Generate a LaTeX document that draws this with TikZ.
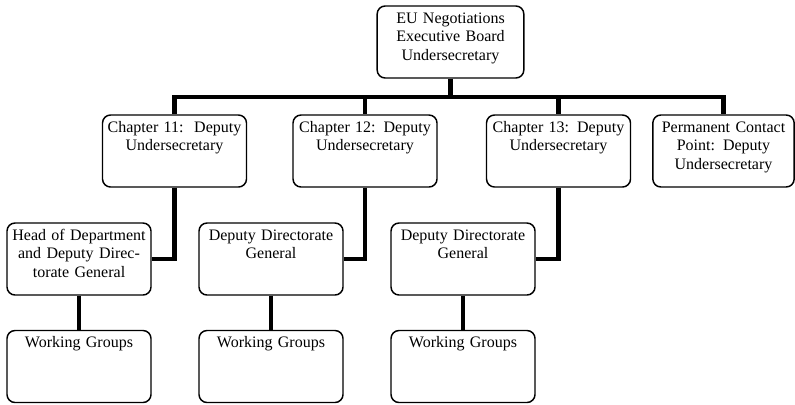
\documentclass[tikz,border=0pt]{standalone}
\usepackage{fontspec}
\setmainfont{Liberation Serif}

\begin{document}
\begin{tikzpicture}[x=0.75pt,y=0.75pt,yscale=-1,
  unit/.style={draw, line width=1.1pt, rounded corners=6pt, align=center,
    text width=104pt, inner xsep=2pt, inner ysep=3pt,
    text height=10pt, text depth=38pt, font=\fontsize{12}{13.8}\selectfont},
  link/.style={line width=3.7pt}]
\path[use as bounding box] (0,0) rectangle (795,404);

% Top level
\node[unit, text width=106pt] (board) at (450.5,42) {EU Negotiations\\Executive Board\\Undersecretary};

% Chapters
\node[unit] (ch11) at (174.5,151) {Chapter 11:\ \ Deputy\\Undersecretary};
\node[unit] (ch12) at (365,151) {Chapter 12: Deputy\\Undersecretary};
\node[unit] (ch13) at (558.5,151) {Chapter 13: Deputy\\Undersecretary};
\node[unit, text width=102pt] (contact) at (723.5,151) {Permanent Contact\\Point: Deputy\\Undersecretary};

% Directorates
\node[unit] (head) at (79,259) {Head of Department\\and Deputy Direc-\\torate General};
\node[unit] (ddg12) at (271,259) {Deputy Directorate\\General};
\node[unit] (ddg13) at (463,259) {Deputy Directorate\\General};

% Working groups
\node[unit] (wg11) at (79,366.5) {Working Groups};
\node[unit] (wg12) at (271,366.5) {Working Groups};
\node[unit] (wg13) at (463,366.5) {Working Groups};

% Connectors
\coordinate (bar) at (450.5,97);
\draw[link] (board.south) -- (bar);
\foreach \c in {ch11,ch12,ch13,contact}
  \draw[link] (bar) -| (\c.north);
\draw[link] (ch11.south) |- (head.east);
\draw[link] (ch12.south) |- (ddg12.east);
\draw[link] (ch13.south) |- (ddg13.east);
\draw[link] (head) -- (wg11);
\draw[link] (ddg12) -- (wg12);
\draw[link] (ddg13) -- (wg13);

\end{tikzpicture}
\end{document}
